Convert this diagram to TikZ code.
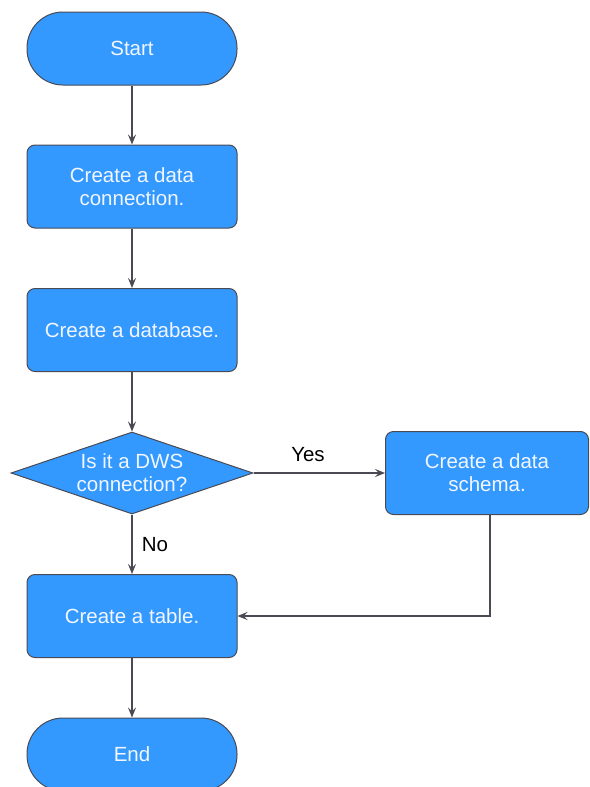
\documentclass[tikz,border=0pt]{standalone}
\usepackage{fontspec}
\setmainfont{Liberation Sans}
\usetikzlibrary{shapes.geometric,arrows.meta}
\definecolor{boxblue}{HTML}{3399FF}
\definecolor{edgegray}{HTML}{4A4A55}
\definecolor{txtwhite}{HTML}{F2F6FF}
\begin{document}
\begin{tikzpicture}[x=1pt,y=-1pt,
 base/.style={draw=edgegray, line width=1pt, fill=boxblue, text=txtwhite, font=\fontsize{20.5}{23}\selectfont, align=center, inner sep=0pt},
 term/.style={base, rectangle, rounded corners=36pt, minimum width=210pt, minimum height=73pt},
 proc/.style={base, rectangle, rounded corners=8pt, minimum width=210pt, minimum height=83pt},
 dec/.style={base, diamond, aspect=2.95, minimum width=242pt, minimum height=82pt},
 conn/.style={draw=edgegray, line width=1.2pt, -{Stealth[length=10pt,width=8pt,inset=4pt]}},
 lab/.style={font=\fontsize{20.5}{23}\selectfont, text=black, inner sep=0pt}]
\useasboundingbox (0,0) rectangle (589,787);
\node[term] (start) at (132,48.5) {Start};
\node[proc] (conn1) at (132,186.5) {Create a data\\connection.};
\node[proc] (db) at (132,330) {Create a database.};
\node[dec] (dws) at (132,473) {Is it a DWS\\connection?};
\node[proc, minimum width=203pt] (schema) at (487,473) {Create a data\\schema.};
\node[proc] (table) at (132,616) {Create a table.};
\node[term] (end) at (132,754.5) {End};
\coordinate (corner) at (490,616);
\draw[conn] (start) -- (conn1);
\draw[conn] (conn1) -- (db);
\draw[conn] (db) -- (dws);
\draw[conn] (dws) -- (schema);
\draw[conn] (dws) -- (table);
\draw[conn] (schema.south -| corner) -- (corner) -- (table.east);
\draw[conn] (table) -- (end);
\node[lab] (yes) at (308,455) {Yes};
\node[lab] (no) at (155,545) {No};
\end{tikzpicture}
\end{document}
